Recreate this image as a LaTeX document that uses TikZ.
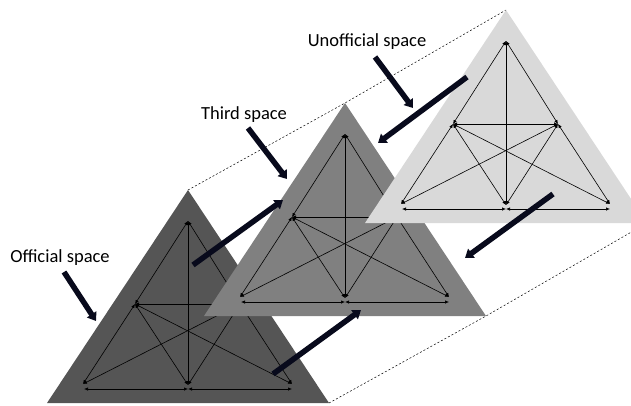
\documentclass[tikz,border=0pt]{standalone}
\usepackage{fontspec}
\setmainfont{Carlito}
\usetikzlibrary{arrows.meta}
\definecolor{triA}{RGB}{85,85,85}
\definecolor{triB}{RGB}{128,128,128}
\definecolor{triC}{RGB}{217,217,217}
\definecolor{bigarrow}{RGB}{8,10,28}
\begin{document}
\begin{tikzpicture}[x=1pt,y=-1pt,
  link/.style={line width=0.6pt,{Latex[length=4pt,width=3.4pt]}-{Latex[length=4pt,width=3.4pt]}},
  bigarr/.style={line width=5.5pt,draw=bigarrow,-{Triangle[length=8pt,width=11pt]}},
  guide/.style={line width=0.5pt,dash pattern=on 2pt off 2pt},
  lbl/.style={font=\fontsize{18.5}{22}\selectfont,inner sep=0pt},
  pics/net/.style={code={
    \fill[#1] (0,0) -- (-141,213) -- (141,213) -- cycle;
    \coordinate (-t) at (0,31);
    \coordinate (-ml) at (-53,114);
    \coordinate (-mr) at (52,114);
    \coordinate (-bl) at (-105,194);
    \coordinate (-bm) at (0,195);
    \coordinate (-br) at (104,194);
    \coordinate (-bl2) at (-104,199);
    \coordinate (-bm2) at (0,199);
    \coordinate (-br2) at (104,199);
    \draw[link] (-t) -- (-bm);
    \draw[link] (-t) -- (-ml);
    \draw[link] (-t) -- (-mr);
    \draw[link] (-ml) -- (-mr);
    \draw[link] (-ml) -- (-bl);
    \draw[link] (-ml) -- (-bm);
    \draw[link] (-ml) -- (-br);
    \draw[link] (-mr) -- (-bl);
    \draw[link] (-mr) -- (-bm);
    \draw[link] (-mr) -- (-br);
    \draw[link] (-bl2) -- (-bm2);
    \draw[link] (-bm2) -- (-br2);
  }}
]
\useasboundingbox (0,0) rectangle (631,405);
\clip (0,0) rectangle (631,405);
% apexes and base corners
\coordinate (A1) at (188,190);
\coordinate (A2) at (345,103);
\coordinate (A3) at (506,10);
\coordinate (R1) at (329,403);
\coordinate (R2) at (486,316);
\coordinate (R3) at (647,223);
\draw[guide] (A1) -- (A2) -- (A3);
\draw[guide] (R1) -- (R2) -- (R3);
% triangles with networks
\pic (T1) at (A1) {net=triA};
\pic (T2) at (A2) {net=triB};
\pic (T3) at (A3) {net=triC};
% labels
\node[lbl] (lo) at (60,258) {Official space};
\node[lbl] (lt) at (244,115) {Third space};
\node[lbl] (lu) at (367,42) {Unofficial space};
% big arrows
\coordinate (a1s) at (64,272);  \coordinate (a1e) at (96,321);
\coordinate (a2s) at (248,128); \coordinate (a2e) at (287,179);
\coordinate (a3s) at (375,57);  \coordinate (a3e) at (413,108);
\coordinate (a4s) at (193,265); \coordinate (a4e) at (283,200);
\coordinate (a5s) at (273,374); \coordinate (a5e) at (361,310);
\coordinate (a6s) at (467,77);  \coordinate (a6e) at (378,143);
\coordinate (a7s) at (553,194); \coordinate (a7e) at (465,258);
\draw[bigarr] (a1s) -- (a1e);
\draw[bigarr] (a2s) -- (a2e);
\draw[bigarr] (a3s) -- (a3e);
\draw[bigarr] (a4s) -- (a4e);
\draw[bigarr] (a5s) -- (a5e);
\draw[bigarr] (a6s) -- (a6e);
\draw[bigarr] (a7s) -- (a7e);
\end{tikzpicture}
\end{document}
